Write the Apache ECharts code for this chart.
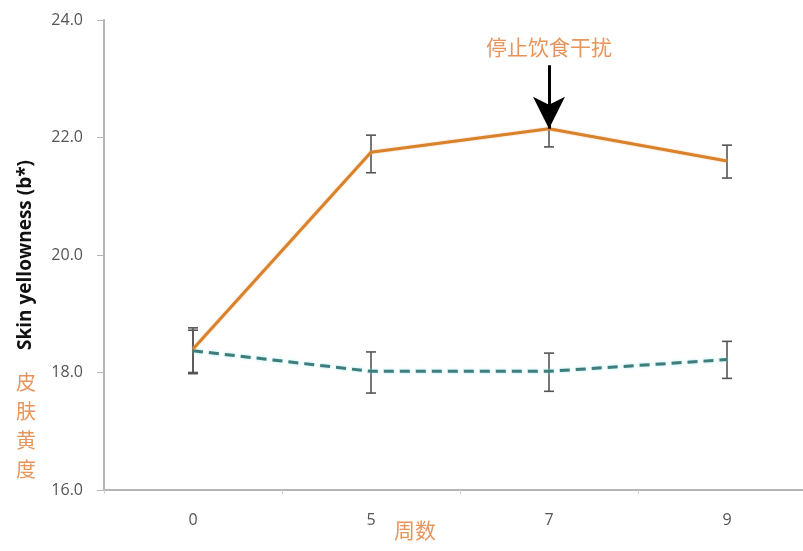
<!DOCTYPE html>
<html>
<head>
<meta charset="utf-8">
<script src="https://cdn.jsdelivr.net/npm/echarts@6/dist/echarts.min.js"></script>
<style>
  html, body { margin: 0; padding: 0; background: #fff; }
  #chart { width: 803px; height: 551px; }
</style>
</head>
<body>
<div id="chart"></div>
<script>
// weeks on the x axis
const weeks = ["0", "5", "7", "9"];
// dietary intervention group (orange, solid)
const dietMean = [18.4, 21.75, 22.15, 21.6];
const dietLow = [18.0, 21.4, 21.84, 21.31];
const dietHigh = [18.72, 22.04, 22.46, 21.87];
// control group (teal, dashed)
const ctrlMean = [18.37, 18.02, 18.02, 18.22];
const ctrlLow = [17.98, 17.65, 17.68, 17.9];
const ctrlHigh = [18.76, 18.35, 18.33, 18.53];
// arrow marking when the diet was stopped
const stopWeek = "7";
const arrowFrom = 23.23;
const arrowTo = 22.15;

const chart = echarts.init(document.getElementById("chart"));

const orange = "#d9822b";
const teal = "#3f7d7b";
const noteColor = "#e8955c";

function errorBars(low, high) {
  return {
    type: "custom",
    z: 1,
    silent: true,
    data: weeks.map((w, i) => [i, low[i], high[i]]),
    renderItem: function (params, api) {
      const lo = api.coord([api.value(0), api.value(1)]);
      const hi = api.coord([api.value(0), api.value(2)]);
      const cap = 5;
      const style = { stroke: "#555", lineWidth: 1.6 };
      return {
        type: "group",
        children: [
          { type: "line", shape: { x1: lo[0], y1: lo[1], x2: hi[0], y2: hi[1] }, style },
          { type: "line", shape: { x1: lo[0] - cap, y1: lo[1], x2: lo[0] + cap, y2: lo[1] }, style },
          { type: "line", shape: { x1: hi[0] - cap, y1: hi[1], x2: hi[0] + cap, y2: hi[1] }, style }
        ]
      };
    }
  };
}

chart.setOption({
  backgroundColor: "#fff",
  animation: false,
  grid: { left: 104, width: 712, top: 20, bottom: 61, outerBoundsMode: "none", containLabel: false },
  xAxis: {
    type: "category",
    data: weeks,
    boundaryGap: true,
    axisLine: { lineStyle: { color: "#b5b5b5", width: 2 } },
    axisTick: { show: true, length: 4, lineStyle: { color: "#d0d0d0" } },
    axisLabel: { color: "#555", fontSize: 16, margin: 22, fontFamily: "Open Sans" }
  },
  yAxis: {
    type: "value",
    min: 16,
    max: 24,
    interval: 2,
    name: "Skin yellowness (b*)",
    nameLocation: "middle",
    nameRotate: 90,
    nameGap: 69,
    nameTextStyle: { color: "#111", fontSize: 19, fontWeight: "bold", fontFamily: "Open Sans" },
    axisLine: { show: true, lineStyle: { color: "#b5b5b5", width: 2 } },
    axisTick: { show: true, length: 7, lineStyle: { color: "#b5b5b5" } },
    splitLine: { show: false },
    axisLabel: {
      color: "#555", fontSize: 16, margin: 21, fontFamily: "Open Sans",
      formatter: v => v.toFixed(1)
    }
  },
  graphic: [
    {
      type: "text", left: 486, top: 37,
      style: { text: "停止饮食干扰", fill: noteColor, font: '21px "Noto Sans CJK SC"' }
    },
    {
      type: "text", left: 394, top: 520,
      style: { text: "周数", fill: noteColor, font: '21px "Noto Sans CJK SC"' }
    },
    {
      type: "text", left: 16, top: 368,
      style: { text: "皮\n肤\n黄\n度", fill: noteColor, font: '20px "Noto Sans CJK SC"', lineHeight: 29 }
    }
  ],
  series: [
    errorBars(ctrlLow, ctrlHigh),
    errorBars(dietLow, dietHigh),
    {
      type: "line",
      data: ctrlMean,
      z: 3,
      symbol: "none",
      lineStyle: { color: teal, width: 3, type: [10, 6], shadowColor: "rgba(120,220,230,0.7)", shadowBlur: 3 }
    },
    {
      type: "line",
      data: dietMean,
      z: 4,
      symbol: "none",
      lineStyle: { color: orange, width: 3, shadowColor: "rgba(240,170,100,0.6)", shadowBlur: 2 },
      markLine: {
        silent: true,
        symbol: ["none", "arrow"],
        symbolSize: [24, 32],
        label: { show: false },
        lineStyle: { color: "#000", width: 3, type: "solid" },
        data: [[{ coord: [stopWeek, arrowFrom] }, { coord: [stopWeek, arrowTo] }]]
      }
    }
  ]
});
</script>
</body>
</html>
